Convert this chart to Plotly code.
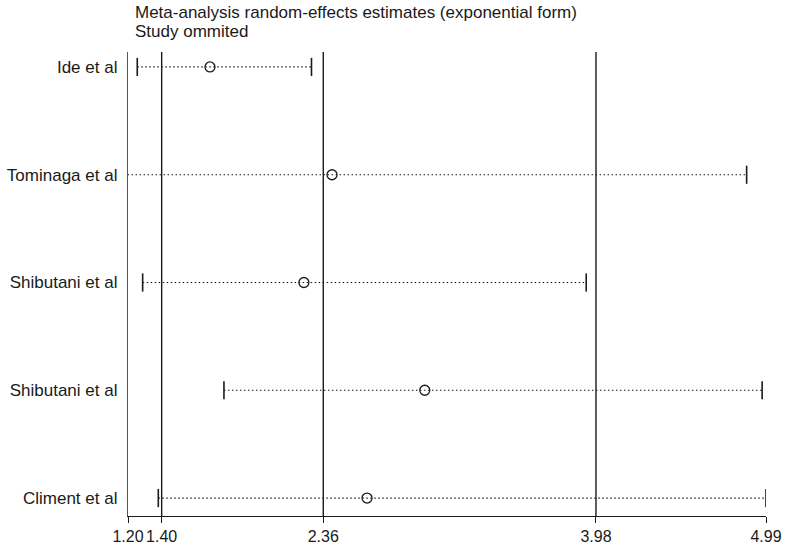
import plotly.graph_objects as go

studies = ["Ide et al", "Tominaga et al", "Shibutani et al", "Shibutani et al", "Climent et al"]
estimate = [1.687, 2.412, 2.245, 2.963, 2.620]
lower = [1.255, 1.15, 1.287, 1.770, 1.380]
upper = [2.290, 4.875, 3.922, 4.967, 4.99]
tick_vals = [1.20, 1.40, 2.36, 3.98, 4.99]
tick_text = ["1.20", "1.40", "2.36", "3.98", "4.99"]
ref_lines = [1.40, 2.36, 3.98]

n = len(studies)
ypos = [n - i for i in range(n)]
ink = "#1a1a1a"

fig = go.Figure()
for i in range(n):
    fig.add_trace(go.Scatter(
        x=[lower[i], upper[i]], y=[ypos[i], ypos[i]], mode="lines",
        line=dict(color=ink, width=1.2, dash="1.5px,2.5px"), showlegend=False, hoverinfo="skip"))
    caps_x = [v for v in (lower[i], upper[i]) if v >= tick_vals[0]]
    fig.add_trace(go.Scatter(
        x=caps_x, y=[ypos[i]] * len(caps_x), mode="markers",
        marker=dict(symbol="line-ns", size=13, line=dict(color=ink, width=1.6)),
        showlegend=False, hoverinfo="skip"))

fig.add_trace(go.Scatter(
    x=estimate, y=ypos, mode="markers",
    marker=dict(symbol="circle-open", size=10, color=ink, line=dict(color=ink, width=1.3)),
    showlegend=False))

for v in ref_lines:
    fig.add_shape(type="line", x0=v, x1=v, xref="x", yref="paper", y0=0, y1=1,
                  line=dict(color=ink, width=1.4))

fig.update_layout(
    width=792, height=546,
    margin=dict(l=128, r=26, t=52, b=30),
    paper_bgcolor="white", plot_bgcolor="white",
    font=dict(family="Liberation Sans, Arial, sans-serif", size=17, color=ink),
    xaxis=dict(range=[tick_vals[0], tick_vals[-1]], tickvals=tick_vals, ticktext=tick_text,
               showgrid=False, zeroline=False, showline=True, linecolor=ink, linewidth=1.3,
               ticks="outside", ticklen=6, tickwidth=1.3, tickcolor=ink,
               tickfont=dict(size=16), automargin=False),
    yaxis=dict(range=[1 - 18 / 108, 5 + 15 / 108], tickvals=ypos, ticktext=studies,
               showgrid=False, zeroline=False, showline=True, linecolor="#555555", linewidth=1.3,
               ticks="", ticklabelstandoff=6, tickfont=dict(size=17), automargin=False),
)

fig.add_annotation(text="Meta-analysis random-effects estimates (exponential form)",
                   xref="paper", yref="paper", x=0.008, y=1, yshift=40, xanchor="left",
                   yanchor="middle", showarrow=False, font=dict(size=17))
fig.add_annotation(text="Study ommited",
                   xref="paper", yref="paper", x=0.008, y=1, yshift=21, xanchor="left",
                   yanchor="middle", showarrow=False, font=dict(size=17))

fig.write_html("out.html", config={"displayModeBar": False},
               post_script="document.body.style.margin='0';document.body.style.overflow='hidden';")
